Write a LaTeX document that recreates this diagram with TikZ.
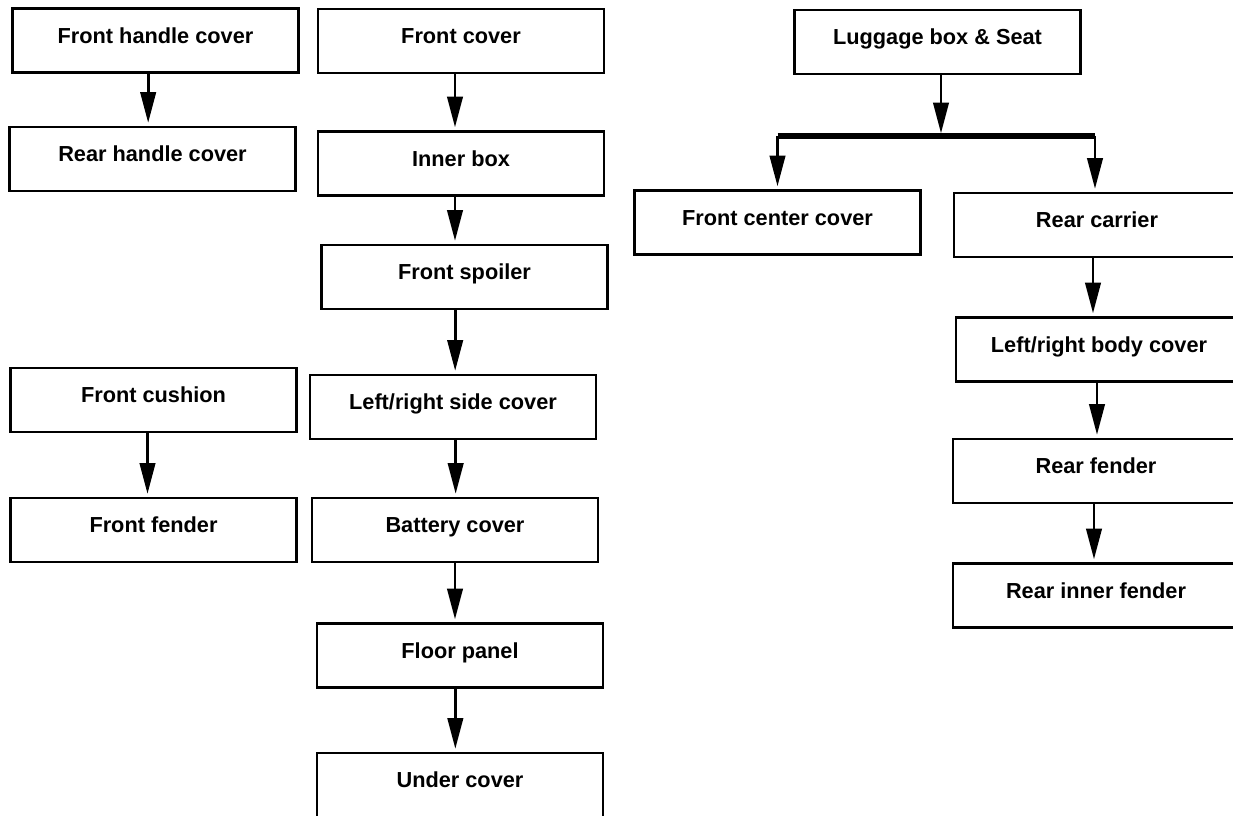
\documentclass[tikz,border=0pt]{standalone}
\usepackage{fontspec}
\setmainfont{Liberation Sans}
\usepackage{tikz}
\usetikzlibrary{arrows.meta}

\begin{document}
\begin{tikzpicture}[x=0.75pt, y=-0.75pt,
    part/.style={draw, line width=2.2pt, fill=white, minimum width=214.5pt,
      minimum height=48pt, inner sep=0pt, text height=12pt, text depth=8pt,
      font=\fontsize{16.3}{19}\selectfont\bfseries},
    arr/.style={line width=2.2pt, -{Triangle[length=23pt, width=11.5pt]}, shorten >=2pt},
    bar/.style={line width=3.8pt}]
  \useasboundingbox (0,0) rectangle (1233,816);
  \clip (0,0) rectangle (1233,816);
  % --- left column ---------------------------------------------------
  \node[part] (fhc)  at (155.5, 40.5) {Front handle cover};
  \node[part] (rhc)  at (152.5, 159)  {Rear handle cover};
  \node[part] (cush) at (153.5, 400)  {Front cushion};
  \node[part] (ffen) at (153.5, 530)  {Front fender};
  % --- middle column -------------------------------------------------
  \node[part] (fcov)  at (461, 41)    {Front cover};
  \node[part] (ibox)  at (461, 163.5) {Inner box};
  \node[part] (fspo)  at (464.5, 277) {Front spoiler};
  \node[part] (lrsc)  at (453, 407)   {Left/right side cover};
  \node[part] (bat)   at (455, 530)   {Battery cover};
  \node[part] (floor) at (460, 655.5) {Floor panel};
  \node[part] (under) at (460, 785)   {Under cover};
  % --- right column --------------------------------------------------
  \node[part] (lug)  at (937.5, 42)   {Luggage box \& Seat};
  \node[part] (fcc)  at (777.5, 222.5) {Front center cover};
  \node[part] (rc)   at (1097, 225)   {Rear carrier};
  \node[part] (lrbc) at (1099, 349.5) {Left/right body cover};
  \node[part] (rf)   at (1096, 471)   {Rear fender};
  \node[part] (rif)  at (1096, 595.5) {Rear inner fender};
  % --- connectors ----------------------------------------------------
  \draw[arr] ([xshift=-5.5pt]fhc.south)  -- ([xshift=-5.5pt]fhc.south |- rhc.north);
  \draw[arr] ([xshift=-4.5pt]cush.south) -- ([xshift=-4.5pt]cush.south |- ffen.north);
  \draw[arr] ([xshift=-4.5pt]fcov.south) -- ([xshift=-4.5pt]fcov.south |- ibox.north);
  \draw[arr] ([xshift=-4.5pt]ibox.south) -- ([xshift=-4.5pt]ibox.south |- fspo.north);
  \draw[arr] ([xshift=-7pt]fspo.south) -- ([xshift=-7pt]fspo.south |- lrsc.north);
  \draw[arr] ([xshift=2pt]lrsc.south) -- ([xshift=2pt]lrsc.south |- bat.north);
  \draw[arr] (bat.south)  -- (bat.south |- floor.north);
  \draw[arr] ([xshift=-3.5pt]floor.south) -- ([xshift=-3.5pt]floor.south |- under.north);
  \draw[arr] ([xshift=-3pt]rc.south)   -- ([xshift=-3pt]rc.south |- lrbc.north);
  \draw[arr] ([xshift=-1.5pt]lrbc.south) -- ([xshift=-1.5pt]lrbc.south |- rf.north);
  \draw[arr] ([xshift=-1.5pt]rf.south)   -- ([xshift=-1.5pt]rf.south |- rif.north);
  % split below the luggage box
  \coordinate (split) at (941, 136);
  \draw[arr] (split |- lug.south) -- (split);
  \draw[bar] (fcc.north |- split) -- ([xshift=-1.5pt]rc.north |- split);
  \draw[arr] (fcc.north |- split) -- (fcc.north);
  \draw[arr] ([xshift=-1.5pt]rc.north |- split) -- ([xshift=-1.5pt]rc.north);
\end{tikzpicture}
\end{document}
